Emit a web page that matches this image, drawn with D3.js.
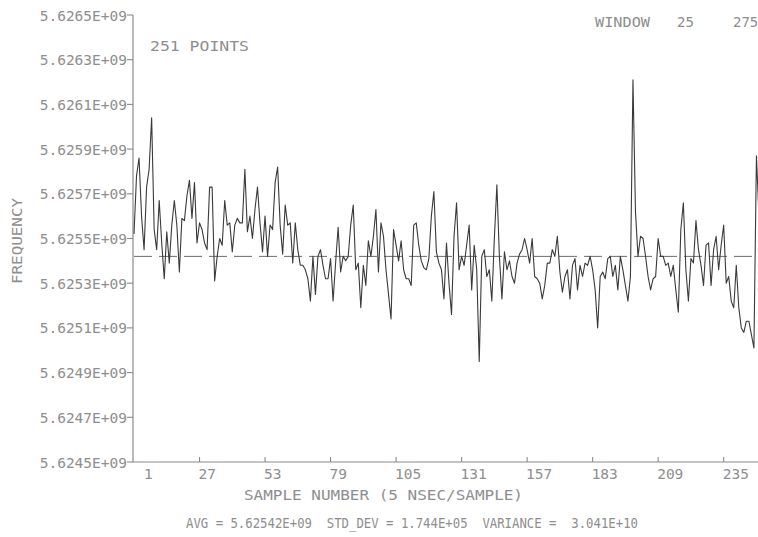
<!DOCTYPE html>
<html><head><meta charset="utf-8">
<script src="https://cdn.jsdelivr.net/npm/d3@7"></script>
<style>
html,body{margin:0;padding:0;background:#fff;}
svg{display:block;}
text{font-family:"DejaVu Sans Mono",monospace;fill:#8e8e8e;}
</style></head><body>
<svg id="chart" width="758" height="537"></svg>
<script>
// Frequency (in units of 1E+09 Hz) for the 251 samples of the window
const frequency = [
5.62552,5.62578,5.62586,5.62560,5.62545,5.62573,5.62581,5.62604,5.62554,5.62545,
5.62567,5.62548,5.62532,5.62553,5.62539,5.62556,5.62567,5.62556,5.62535,5.62559,
5.62558,5.62569,5.62576,5.62559,5.62575,5.62548,5.62557,5.62554,5.62548,5.62545,
5.62573,5.62573,5.62531,5.62542,5.62550,5.62547,5.62567,5.62556,5.62557,5.62544,
5.62556,5.62559,5.62557,5.62557,5.62581,5.62553,5.62560,5.62550,5.62563,5.62573,
5.62557,5.62544,5.62560,5.62542,5.62556,5.62554,5.62575,5.62582,5.62556,5.62543,
5.62565,5.62556,5.62557,5.62539,5.62557,5.62545,5.62538,5.62538,5.62536,5.62532,
5.62522,5.62542,5.62525,5.62542,5.62545,5.62538,5.62532,5.62532,5.62541,5.62522,
5.62539,5.62555,5.62535,5.62542,5.62540,5.62542,5.62556,5.62565,5.62536,5.62539,
5.62519,5.62538,5.62529,5.62549,5.62542,5.62551,5.62563,5.62535,5.62557,5.62551,
5.62536,5.62525,5.62514,5.62554,5.62547,5.62540,5.62549,5.62536,5.62532,5.62532,
5.62529,5.62556,5.62557,5.62547,5.62540,5.62537,5.62536,5.62541,5.62560,5.62571,
5.62544,5.62539,5.62536,5.62523,5.62548,5.62530,5.62516,5.62551,5.62566,5.62536,
5.62542,5.62538,5.62547,5.62556,5.62527,5.62547,5.62536,5.62495,5.62542,5.62545,
5.62533,5.62536,5.62522,5.62550,5.62574,5.62542,5.62523,5.62544,5.62536,5.62540,
5.62533,5.62530,5.62539,5.62543,5.62545,5.62550,5.62545,5.62539,5.62550,5.62533,
5.62532,5.62530,5.62523,5.62529,5.62539,5.62539,5.62545,5.62542,5.62551,5.62535,
5.62526,5.62533,5.62536,5.62523,5.62538,5.62541,5.62527,5.62538,5.62533,5.62539,
5.62538,5.62542,5.62536,5.62527,5.62510,5.62533,5.62535,5.62532,5.62541,5.62542,
5.62533,5.62538,5.62527,5.62542,5.62536,5.62529,5.62522,5.62533,5.62621,5.62562,
5.62542,5.62551,5.62550,5.62542,5.62533,5.62527,5.62532,5.62533,5.62550,5.62542,
5.62542,5.62538,5.62539,5.62533,5.62538,5.62527,5.62517,5.62554,5.62566,5.62536,
5.62522,5.62541,5.62539,5.62558,5.62545,5.62538,5.62529,5.62547,5.62548,5.62529,
5.62545,5.62551,5.62536,5.62547,5.62556,5.62530,5.62533,5.62522,5.62519,5.62538,
5.62519,5.62510,5.62508,5.62513,5.62513,5.62507,5.62501,5.62587,5.62560,5.62548,
5.62552
];
const sampleNumber = d3.range(1, frequency.length + 1);
const xTickValues = [1, 27, 53, 79, 105, 131, 157, 183, 209, 235];
const yTickValues = [5.6245, 5.6247, 5.6249, 5.6251, 5.6253, 5.6255, 5.6257, 5.6259, 5.6261, 5.6263, 5.6265];
const yTickLabels = ["5.6245E+09","5.6247E+09","5.6249E+09","5.6251E+09","5.6253E+09","5.6255E+09","5.6257E+09","5.6259E+09","5.6261E+09","5.6263E+09","5.6265E+09"];
const average = 5.62542;
const pointsLabel = "251 POINTS";
const windowLabel = ["WINDOW", "25", "275"];
const xTitle = "SAMPLE NUMBER (5 NSEC/SAMPLE)";
const yTitle = "FREQUENCY";
const statsLabel = "AVG = 5.62542E+09  STD_DEV = 1.744E+05  VARIANCE =  3.041E+10";

const svg = d3.select("#chart");
const x = d3.scaleLinear().domain([1, 251]).range([134, 764]);
const y = d3.scaleLinear().domain([5.6245, 5.6265]).range([462, 15]);

// x axis
const gx = svg.append("g").attr("transform", "translate(0,462)");
gx.append("line").attr("x1", 133).attr("x2", 758).attr("y1", 0).attr("y2", 0)
  .attr("stroke", "#8a8a8a").attr("stroke-width", 1.2);
gx.selectAll("line.tk").data(xTickValues.slice(1)).join("line").attr("class","tk")
  .attr("x1", d => x(d)).attr("x2", d => x(d)).attr("y1", 0).attr("y2", -5)
  .attr("stroke", "#8a8a8a").attr("stroke-width", 1.1);
gx.selectAll("text").data(xTickValues).join("text")
  .attr("x", (d, i) => i === 0 ? x(d) + 10 : x(d) - 1)
  .attr("y", 17).attr("font-size", 14.5).text(d => d);

// y axis
const gy = svg.append("g");
gy.append("line").attr("x1", 133).attr("x2", 133).attr("y1", 15).attr("y2", 462)
  .attr("stroke", "#8a8a8a").attr("stroke-width", 1.2);
gy.selectAll("line.tk").data(yTickValues).join("line").attr("class","tk")
  .attr("x1", 127).attr("x2", 133).attr("y1", d => y(d)).attr("y2", d => y(d))
  .attr("stroke", "#8a8a8a").attr("stroke-width", 1.1);
gy.selectAll("text").data(yTickValues).join("text")
  .attr("x", 127).attr("y", d => y(d) + 5.5).attr("text-anchor", "end")
  .attr("font-size", 14.5).text((d, i) => yTickLabels[i]);

// average line
svg.append("line").attr("x1", 134).attr("x2", 758)
  .attr("y1", y(average)).attr("y2", y(average))
  .attr("stroke", "#6a6a6a").attr("stroke-width", 1).attr("stroke-dasharray", "18,7");

// data line
const line = d3.line().x((d, i) => x(sampleNumber[i])).y(d => y(d));
svg.append("path").datum(frequency).attr("d", line)
  .attr("fill", "none").attr("stroke", "#3a3a3a").attr("stroke-width", 1.1)
  .attr("stroke-linejoin", "round");

// texts
svg.append("text").attr("x", 150).attr("y", 51).attr("font-size", 14)
  .attr("textLength", 99).attr("lengthAdjust", "spacingAndGlyphs").text(pointsLabel);
svg.append("text").attr("x", 595).attr("y", 27).attr("font-size", 14)
  .attr("textLength", 55).attr("lengthAdjust", "spacingAndGlyphs").text(windowLabel[0]);
svg.append("text").attr("x", 677).attr("y", 27).attr("font-size", 14).text(windowLabel[1]);
svg.append("text").attr("x", 733).attr("y", 27).attr("font-size", 14).text(windowLabel[2]);
svg.append("text").attr("x", 244).attr("y", 500).attr("font-size", 14.5)
  .attr("textLength", 279).attr("lengthAdjust", "spacingAndGlyphs").text(xTitle);
svg.append("text").attr("x", 186).attr("y", 528).attr("font-size", 13.5)
  .attr("textLength", 452).attr("lengthAdjust", "spacingAndGlyphs")
  .style("white-space", "pre").text(statsLabel);
svg.append("text").attr("transform", "translate(22,241) rotate(-90)")
  .attr("text-anchor", "middle").attr("font-size", 14)
  .attr("textLength", 86).attr("lengthAdjust", "spacingAndGlyphs").text(yTitle);
</script>
</body></html>
